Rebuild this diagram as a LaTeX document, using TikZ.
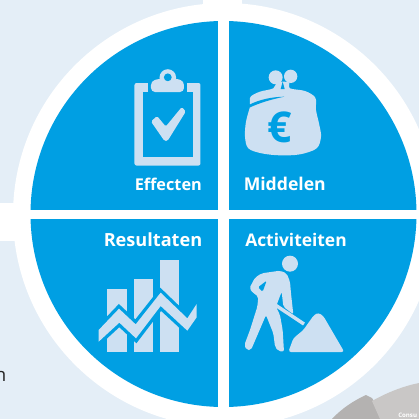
\documentclass[tikz,border=0pt]{standalone}
\usepackage{fontspec}
\setmainfont{Open Sans}
\definecolor{bgblue}{HTML}{E4EEF7}
\definecolor{mainblue}{HTML}{009FE3}
\definecolor{iconblue}{HTML}{CDE0F2}
\definecolor{grayA}{HTML}{B4B2B1}
\definecolor{grayB}{HTML}{C9C7C6}
\tikzset{
  icon/.style={fill=iconblue,draw=none},
  cut/.style={fill=mainblue,draw=none},
  lab/.style={anchor=base west,inner sep=0pt,text=white},
}
\newcommand{\labfont}[1]{\bfseries\fontsize{#1}{16}\selectfont}
\begin{document}
\begin{tikzpicture}[x=0.75pt,y=-0.75pt]
\useasboundingbox (0,0) rectangle (419,419);
\clip (0,0) rectangle (419,419);
\fill[bgblue] (0,0) rectangle (419,419);
% grey shapes at the lower right
\fill[grayA] (366,395) .. controls (355,400) and (342,408) .. (332,419) -- (385,419) -- (372,398) -- cycle;
\fill[grayB] (372,401) .. controls (388,392) and (404,386) .. (419,383) -- (419,419) -- (380,419) -- cycle;
\node[anchor=base west,inner sep=0pt,text=white,font=\bfseries\fontsize{4.6}{5}\selectfont] (consu) at (398,417) {Consu};
% left-hand word end
\node[anchor=base east,inner sep=0pt,text=black!85,font=\fontsize{14}{16}\selectfont] (wordend) at (6.5,381) {n};
% white ring and bars
\fill[white] (225,215) circle (212);
\fill[white] (0,203) rectangle (40,241);
\fill[white] (203,0) rectangle (242,30);
% quadrants
\begin{scope}
\clip (223.5,214) circle (193);
\fill[mainblue] (0,0) rectangle (217.8,209.5);
\fill[mainblue] (228.8,0) rectangle (419,209.5);
\fill[mainblue] (0,219.4) rectangle (217.8,419);
\fill[mainblue] (228.8,219.4) rectangle (419,419);
\end{scope}
% clipboard
\fill[icon,rounded corners=1.5] (134.5,83) rectangle (200.5,165.5);
\fill[cut] (143,91.8) rectangle (192.7,157);
\fill[cut] (148,80) rectangle (187,92);
\fill[icon] (167.8,77.5) circle (8.3);
\fill[icon,rounded corners=3] (151,81) -- (160,78.5) -- (176,78.5) -- (184,81) -- (184,92) -- (151,92) -- cycle;
\fill[cut] (167.8,77.3) circle (3.9);
\fill[icon,rounded corners=1.2] (151,121.5) -- (157,116) -- (165.8,126.5) -- (181.8,107) -- (185.8,111.5) -- (167.5,141) -- (164.5,141) -- cycle;
% purse
\begin{scope}[shift={(240,65)},x=0.25pt,y=-0.25pt]
\fill[icon] plot[smooth cycle,tension=0.55] coordinates {(30,117) (32,95) (60,80) (100,70) (112,52) (146,52) (150,70) (195,78) (226,98) (228,135) (238,180) (243,215) (230,250) (180,268) (120,271) (65,265) (25,250) (15,215) (18,170) (30,125)};
\fill[icon] (107,37) circle (21);
\fill[icon] (152,34) circle (20);
\fill[cut] (122,72) -- (128,50) -- (134,72) -- cycle;
\fill[cut] (28,119) .. controls (60,103) and (95,96) .. (133,95) .. controls (95,103) and (60,113) .. (28,128) -- cycle;
\end{scope}
\node[inner sep=0pt,text=mainblue,font=\bfseries\fontsize{32}{34}\selectfont] (euro) at (280,127.5) {€};
% chart
\begin{scope}[shift={(90,255)},x=0.25pt,y=-0.25pt]
\fill[icon] (52,103) rectangle (110,292);
\fill[icon] (131,72) rectangle (189,292);
\fill[icon] (210,14) rectangle (267,292);
\path[fill=iconblue,draw=mainblue,line width=5pt,miter limit=10] (26,225) -- (87,161) -- (137,208) -- (212,113) -- (292,190) -- (320,147) -- (320,187) -- (292,227) -- (212,153) -- (138,250) -- (88,203) -- (26,260) -- cycle;
\fill[icon] (26,225) -- (87,161) -- (137,208) -- (212,113) -- (292,190) -- (320,147) -- (320,187) -- (292,227) -- (212,153) -- (138,250) -- (88,203) -- (26,260) -- cycle;
\end{scope}
% worker
\begin{scope}[shift={(240,250)},x=0.25pt,y=-0.25pt]
\fill[icon] (150,41) circle (24);
\fill[icon,rounded corners=1.5] (28,115) -- (45,83) -- (65,70) -- (120,62) -- (140,70) -- (150,95) -- (153,130) -- (160,193) -- (130,170) -- (125,125) -- (108,170) -- (120,195) -- (128,240) -- (132,305) -- (115,303) -- (105,290) -- (100,250) -- (78,195) -- (33,300) -- (20,300) -- (13,285) -- (30,240) -- (52,170) -- (55,140) -- (38,127) -- cycle;
\fill[cut,rounded corners=1] (54,112) -- (80,92) -- (68,125) -- cycle;
\draw[iconblue,line width=2.6pt] (38,120) -- (192,222);
\fill[icon,rounded corners=2] (145,306) -- (160,265) -- (190,240) -- (222,195) -- (235,188) -- (250,198) -- (313,306) -- cycle;
\end{scope}
% labels
\node[lab,font=\labfont{12.2}] (effecten) at (134.5,190) {Effecten};
\node[lab,font=\labfont{13.2}] (middelen) at (243.5,190) {Middelen};
\node[lab,font=\labfont{13.6}] (resultaten) at (103.5,246) {Resultaten};
\node[lab,font=\labfont{13.05}] (activiteiten) at (245,246) {Activiteiten};
\end{tikzpicture}
\end{document}
